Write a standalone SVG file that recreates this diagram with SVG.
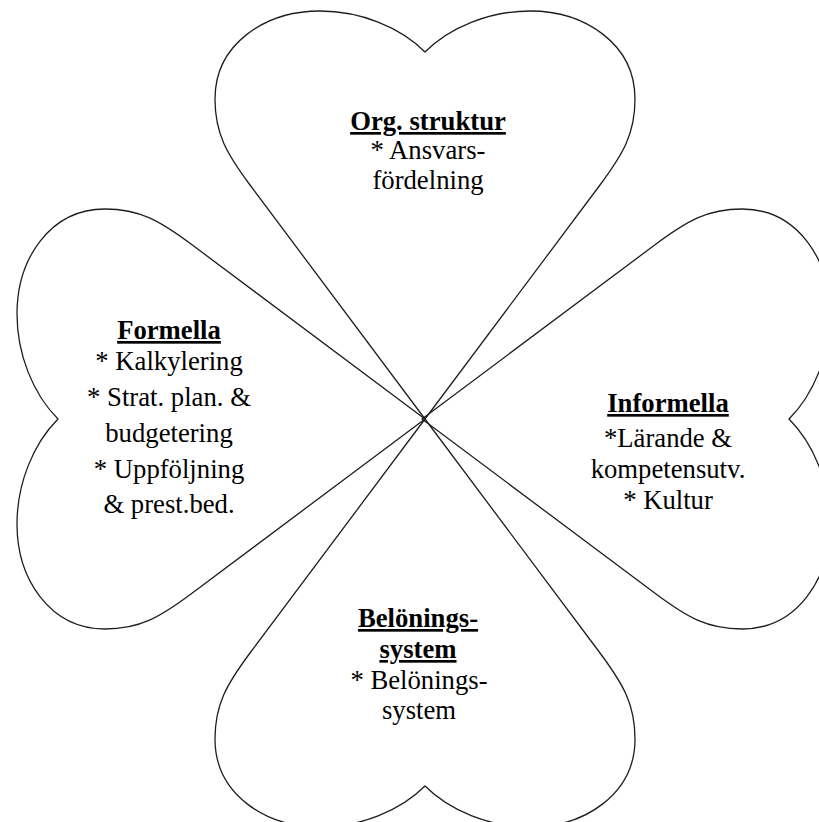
<svg xmlns="http://www.w3.org/2000/svg" width="819" height="822" viewBox="0 0 819 822">
  <style>
    .leaf { fill: none; stroke: #1e1e1e; stroke-width: 1.3; stroke-linejoin: round; }
    .title { font-weight: bold; text-decoration: underline; }
  </style>
  <rect x="0" y="0" width="819" height="822" fill="#fff"/>

  <!-- each leaf is the same heart outline (tip at the centre, lobes outward), rotated about the centre -->
  <g id="leaf-org">
    <path class="leaf" transform="translate(425,419)" d="M0,0 L-175,-234 C-198,-265 -210,-285 -210,-320 C-210,-375 -160,-408 -105,-408 C-65,-408 -25,-392 0,-367 C25,-392 65,-408 105,-408 C160,-408 210,-375 210,-320 C210,-285 198,-265 175,-234 Z"/>
    <text x="428" y="130" font-family="'Liberation Serif'" font-size="26.7" text-anchor="middle"><tspan class="title">Org. struktur</tspan></text>
    <text x="428" y="159" font-family="'Liberation Serif'" font-size="26.7" text-anchor="middle">* Ansvars-</text>
    <text x="428" y="189" font-family="'Liberation Serif'" font-size="26.7" text-anchor="middle">fördelning</text>
  </g>

  <g id="leaf-formella">
    <path class="leaf" transform="translate(425,419) rotate(-90)" d="M0,0 L-175,-234 C-198,-265 -210,-285 -210,-320 C-210,-375 -160,-408 -105,-408 C-65,-408 -25,-392 0,-367 C25,-392 65,-408 105,-408 C160,-408 210,-375 210,-320 C210,-285 198,-265 175,-234 Z"/>
    <text x="169" y="339" font-family="'Liberation Serif'" font-size="26.7" text-anchor="middle"><tspan class="title">Formella</tspan></text>
    <text x="169" y="370" font-family="'Liberation Serif'" font-size="26.7" text-anchor="middle">* Kalkylering</text>
    <text x="169" y="406" font-family="'Liberation Serif'" font-size="26.7" text-anchor="middle">* Strat. plan. &amp;</text>
    <text x="169" y="442" font-family="'Liberation Serif'" font-size="26.7" text-anchor="middle">budgetering</text>
    <text x="169" y="478" font-family="'Liberation Serif'" font-size="26.7" text-anchor="middle">* Uppföljning</text>
    <text x="169" y="513" font-family="'Liberation Serif'" font-size="26.7" text-anchor="middle">&amp; prest.bed.</text>
  </g>

  <g id="leaf-informella">
    <path class="leaf" transform="translate(422,419) rotate(90)" d="M0,0 L-175,-234 C-198,-265 -210,-285 -210,-320 C-210,-375 -160,-408 -105,-408 C-65,-408 -25,-392 0,-367 C25,-392 65,-408 105,-408 C160,-408 210,-375 210,-320 C210,-285 198,-265 175,-234 Z"/>
    <text x="668" y="412" font-family="'Liberation Serif'" font-size="26.7" text-anchor="middle"><tspan class="title">Informella</tspan></text>
    <text x="668" y="447" font-family="'Liberation Serif'" font-size="26.7" text-anchor="middle">*Lärande &amp;</text>
    <text x="668" y="478" font-family="'Liberation Serif'" font-size="26.7" text-anchor="middle">kompetensutv.</text>
    <text x="668" y="509" font-family="'Liberation Serif'" font-size="26.7" text-anchor="middle">* Kultur</text>
  </g>

  <g id="leaf-belonings">
    <path class="leaf" transform="translate(425,419) rotate(180)" d="M0,0 L-175,-234 C-198,-265 -210,-285 -210,-320 C-210,-375 -160,-408 -105,-408 C-65,-408 -25,-392 0,-367 C25,-392 65,-408 105,-408 C160,-408 210,-375 210,-320 C210,-285 198,-265 175,-234 Z"/>
    <text x="418" y="627" font-family="'Liberation Serif'" font-size="26.7" text-anchor="middle"><tspan class="title">Belönings-</tspan></text>
    <text x="418" y="658" font-family="'Liberation Serif'" font-size="26.7" text-anchor="middle"><tspan class="title">system</tspan></text>
    <text x="419" y="689" font-family="'Liberation Serif'" font-size="26.7" text-anchor="middle">* Belönings-</text>
    <text x="419" y="719" font-family="'Liberation Serif'" font-size="26.7" text-anchor="middle">system</text>
  </g>
</svg>
